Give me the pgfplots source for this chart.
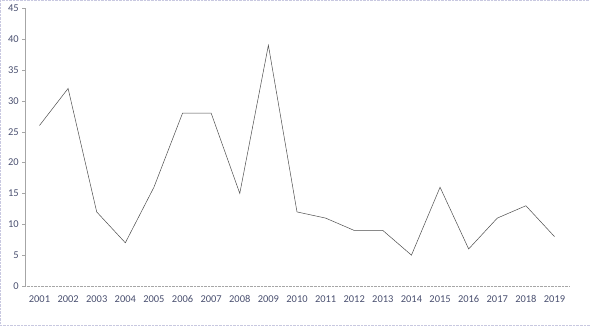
\documentclass[border=0pt]{standalone}
\usepackage{pgfplots}
\pgfplotsset{compat=1.18}
\usepackage{fontspec}
\setmainfont{Carlito}
\definecolor{tickc}{HTML}{4A5070}
\definecolor{axc}{HTML}{A6A6A6}
\definecolor{bordc}{HTML}{C8C8E0}
\begin{document}
\begin{tikzpicture}[x=1bp,y=1bp]
\begin{axis}[
  scale only axis,
  width=544bp, height=278bp,
  xmin=-0.5, xmax=18.5,
  ymin=0, ymax=45,
  xtick=data,
  xticklabels={2001,2002,2003,2004,2005,2006,2007,2008,2009,2010,2011,2012,2013,2014,2015,2016,2017,2018,2019},
  ytick={0,5,...,45},
  axis x line*=bottom,
  axis y line*=left,
  x axis line style={draw=axc, densely dotted, -},
  y axis line style={draw=axc, -},
  major x tick style={draw=none},
  ytick style={draw=axc},
  tick align=outside,
  major tick length=3bp,
  tick label style={font=\fontsize{10.5}{12}\selectfont, text=tickc},
  /pgf/number format/assume math mode=true,
  xticklabel style={yshift=-3bp},
  clip=false,
]
\addplot[draw=black!70, line width=0.5pt, mark=none] coordinates {
(0,26) (1,32) (2,12) (3,7) (4,16) (5,28) (6,28) (7,15) (8,39) (9,12)
(10,11) (11,9) (12,9) (13,5) (14,16) (15,6) (16,11) (17,13) (18,8)
};
\end{axis}
\draw[draw=bordc, densely dotted] (-25bp,-39bp) rectangle (565bp,286bp);
\useasboundingbox (-25bp,-39bp) rectangle (565bp,286bp);
\end{tikzpicture}
\end{document}
